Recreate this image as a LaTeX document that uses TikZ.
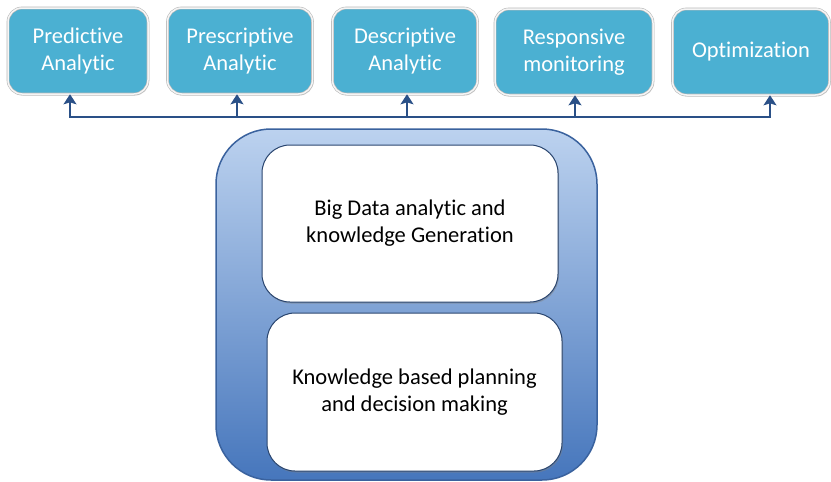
\documentclass[tikz,border=0pt]{standalone}
\usepackage{fontspec}
\setmainfont{Carlito}[Ligatures={NoCommon}]
\usepackage{tikz}
\usetikzlibrary{arrows.meta, shadows}

\definecolor{tealfill}{RGB}{75,176,210}
\definecolor{busblue}{RGB}{42,80,135}
\definecolor{coretop}{RGB}{188,210,239}
\definecolor{corebot}{RGB}{70,118,188}
\definecolor{coreline}{RGB}{58,98,158}

\begin{document}
\begin{tikzpicture}[
        x=1pt, y=1pt,
        tbox/.style={rectangle, draw=gray!55, double=white!92!gray, double distance=1.5pt, line width=0.6pt, fill=tealfill, text=white, align=center, minimum height=86pt, rounded corners=14pt, font=\fontsize{22.5}{27}\selectfont, drop shadow={opacity=0.35, shadow xshift=1pt, shadow yshift=-1.5pt}},
        corebox/.style={rectangle, draw=coreline, line width=1.5pt, top color=coretop, bottom color=corebot, rounded corners=55pt, minimum width=381pt, minimum height=351pt},
        ibox/.style={rectangle, draw=coreline!70!black, line width=1pt, fill=white, align=center, minimum width=296pt, minimum height=157pt, rounded corners=28pt, font=\fontsize{22.5}{27}\selectfont, drop shadow={opacity=0.45, shadow xshift=1pt, shadow yshift=-1.5pt}},
        uparrow/.style={draw=busblue, line width=2.6pt, -{Stealth[length=10pt, width=13pt, inset=2pt]}}
    ]
    \useasboundingbox (0,0) rectangle (831,-482);

    % Top row
    \node (pred) [tbox, minimum width=140pt] at (78,-51) {Predictive\\Analytic};
    \node (pres) [tbox, minimum width=145pt] at (240,-51) {Prescriptive\\Analytic};
    \node (desc) [tbox, minimum width=145pt] at (405,-51) {Descriptive\\Analytic};
    \node (resp) [tbox, minimum width=158pt] at (574,-52) {Responsive\\monitoring};
    \node (opti) [tbox, minimum width=157pt] at (751,-52) {Optimization};

    % Core block
    \node (core) [corebox] at (406.5,-304.5) {};
    \node (gen) [ibox] at (410,-223.5) {Big Data analytic and\\knowledge Generation};
    \node (plan) [ibox, minimum width=295pt, minimum height=158pt] at (414.5,-392) {Knowledge based planning\\and decision making};

    % Bus
    \coordinate (b1) at (70,-117);
    \coordinate (b2) at (237,-117);
    \coordinate (b3) at (407,-117);
    \coordinate (b4) at (575,-117);
    \coordinate (b5) at (770,-117);
    \draw [busblue, line width=2.6pt, line cap=rect] (b1) -- (b5);

    % Arrows
    \draw [uparrow] (b1) -- (b1 |- pred.south);
    \draw [uparrow] (b2) -- (b2 |- pres.south);
    \draw [uparrow] (b3) -- (b3 |- desc.south);
    \draw [uparrow] (b4) -- (b4 |- resp.south);
    \draw [uparrow] (b5) -- (b5 |- opti.south);

\end{tikzpicture}
\end{document}
